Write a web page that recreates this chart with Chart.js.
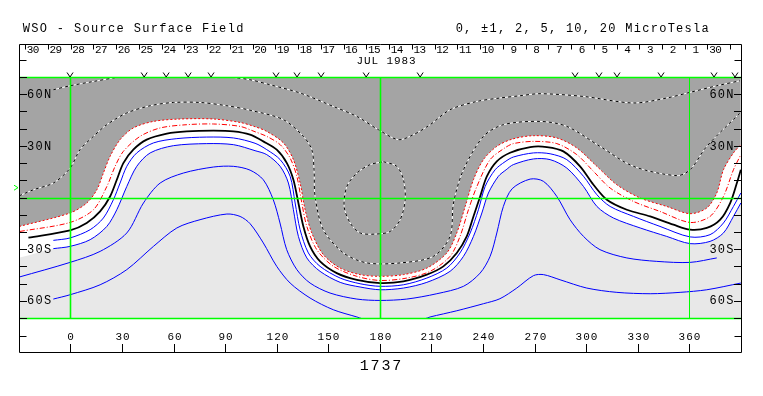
<!DOCTYPE html>
<html><head><meta charset="utf-8">
<script src="https://cdn.jsdelivr.net/npm/chart.js@4.4.0/dist/chart.umd.min.js"></script>
<style>html,body{margin:0;padding:0;background:#fff;}canvas{display:block;}</style>
</head><body>
<canvas id="c" width="763" height="396" style="width:763px;height:396px"></canvas>
<script>
// ---- text / tick data ----
const titleText = 'WSO - Source Surface Field';
const unitsText = '0, \u00b11, 2, 5, 10, 20 MicroTesla';
const rotationText = '1737';
const monthText = 'JUL 1983';
const lonTicks = [0, 30, 60, 90, 120, 150, 180, 210, 240, 270, 300, 330, 360];
const latTicks = [70, 60, 50, 40, 30, 20, 10, 0, -10, -20, -30, -40, -50, -60, -70];
const latLabelVals = [60, 30, -30, -60];
const latLabels = ['60N', '30N', '30S', '60S'];
const dayLabels = [30,29,28,27,26,25,24,23,22,21,20,19,18,17,16,15,14,13,12,11,10,9,8,7,6,5,4,3,2,1,30];
const dayTickLons = [-26.3,-13.1,0.1,13.3,26.6,39.8,53.1,66.3,79.5,92.7,106.0,119.2,132.4,145.7,158.9,172.1,185.3,198.6,211.8,225.0,238.2,251.5,264.7,277.9,291.2,304.4,317.6,330.8,344.1,357.3,370.5,383.7];
const obsLons = [-0.2, 42.9, 55.7, 68.5, 81.8, 119.6, 131.8, 145.8, 172.0, 203.4, 293.5, 307.4, 317.9, 343.5, 374.3, 386.5];
const earthLat = 5.7;
const meridians = [0, 180, 360];
const greenLats = [70, 0, -70];

// ---- contour lines [longitude, latitude] ----
const posOuter = [[-29.7,-16.8],[-0.2,-9.0],[9.5,-3.2],[15.4,4.5],[19.2,14.2],[23.1,23.9],[28.9,33.6],[36.6,40.4],[48.3,44.2],[63.8,45.6],[83.2,45.6],[98.7,43.6],[107.4,41.1],[114.2,38.4],[123.9,31.7],[129.7,22.0],[133.6,8.4],[136.5,-7.1],[140.4,-20.6],[147.1,-33.2],[156.9,-41.0],[168.5,-44.8],[180.1,-45.8],[193.7,-44.8],[207.3,-41.0],[218.9,-32.2],[224.7,-20.6],[229.6,-5.2],[234.4,10.3],[240.2,22.0],[248.0,29.7],[256.9,33.9],[269.3,35.9],[282.9,34.6],[294.5,28.8],[306.2,18.1],[317.8,7.4],[331.4,-0.3],[346.8,-5.2],[360.4,-9.4],[370.1,-6.1],[375.9,2.6],[379.8,16.1],[385.6,25.9],[389.9,30.7]];
const posInner = [[-29.3,-19.7],[-0.2,-14.5],[13.4,-7.1],[21.2,6.4],[26.0,18.1],[30.8,26.8],[40.5,35.5],[52.2,40.4],[67.7,42.3],[83.2,42.7],[98.7,41.3],[107.4,38.2],[114.2,35.5],[122.0,30.7],[127.8,22.9],[131.7,12.3],[134.6,-3.2],[137.5,-16.8],[143.3,-30.3],[153.0,-40.0],[166.6,-45.8],[180.1,-48.2],[195.6,-46.8],[209.2,-42.9],[220.8,-34.2],[226.6,-22.6],[231.5,-7.1],[236.4,6.4],[244.1,22.0],[252.8,28.9],[257.6,31.3],[269.3,32.6],[282.9,31.3],[294.5,24.9],[304.2,15.2],[313.9,5.5],[327.5,-2.3],[342.9,-8.1],[360.4,-14.5],[372.0,-11.0],[379.8,0.6],[385.6,16.1],[389.9,24.9]];
const neutral = [[-24.4,-23.3],[-0.2,-19.1],[9.5,-14.8],[17.3,-8.1],[23.1,0.6],[27.0,10.3],[30.8,20.0],[36.6,27.8],[44.4,33.6],[56.1,37.1],[67.7,38.4],[83.2,38.8],[94.8,38.4],[104.5,36.5],[112.2,32.6],[120.0,27.8],[125.9,20.0],[129.7,10.3],[132.6,-3.2],[135.5,-16.8],[139.4,-28.4],[145.2,-37.1],[154.9,-43.9],[166.6,-47.8],[180.1,-49.7],[193.7,-48.7],[207.3,-44.8],[216.9,-40.0],[224.7,-32.2],[230.5,-22.6],[234.4,-11.0],[238.3,0.6],[242.2,12.3],[248.0,21.0],[255.7,26.0],[267.4,29.3],[277.1,29.3],[286.7,26.8],[296.4,18.1],[304.2,7.4],[312.0,-1.3],[323.6,-7.1],[337.2,-11.0],[350.7,-15.8],[360.4,-18.7],[370.1,-17.7],[377.9,-12.9],[383.7,-3.2],[387.6,8.4],[389.9,16.1]];
const neg1 = [[-9.9,-24.9],[-0.2,-23.5],[11.5,-18.7],[19.2,-11.9],[25.0,-1.3],[28.9,8.4],[32.8,18.1],[38.6,25.9],[48.3,31.7],[61.9,34.2],[79.3,35.1],[94.8,34.6],[107.4,31.5],[114.2,27.8],[122.0,22.0],[127.8,12.3],[130.7,-3.2],[133.6,-18.7],[138.4,-32.2],[145.2,-40.0],[156.9,-46.8],[168.5,-50.1],[180.1,-51.6],[193.7,-50.7],[207.3,-46.8],[218.9,-41.0],[226.6,-32.2],[232.5,-20.6],[237.3,-7.1],[241.2,6.4],[247.0,16.1],[252.8,20.8],[257.6,23.5],[269.3,25.9],[279.0,25.4],[288.7,22.0],[298.4,12.3],[306.2,1.6],[313.9,-5.2],[327.5,-11.0],[342.9,-16.8],[360.4,-22.9],[372.0,-21.6],[379.8,-14.8],[385.6,-5.2],[389.9,2.6]];
const neg2 = [[-9.9,-29.7],[-0.2,-28.4],[11.5,-24.5],[21.2,-16.8],[27.0,-7.1],[32.8,6.4],[38.6,18.1],[46.4,25.9],[59.9,30.1],[79.3,31.3],[94.8,30.7],[107.4,27.2],[114.2,24.9],[122.0,18.1],[126.8,8.4],[129.7,-7.1],[132.6,-22.6],[137.5,-35.1],[145.2,-42.9],[156.9,-49.3],[168.5,-52.0],[180.1,-53.6],[193.7,-52.6],[207.3,-49.3],[220.8,-42.9],[228.6,-34.2],[234.4,-22.6],[239.3,-9.0],[243.1,2.6],[248.9,12.3],[253.4,16.1],[257.6,19.1],[269.3,22.4],[279.0,22.0],[288.7,17.1],[298.4,6.4],[306.2,-5.2],[315.8,-11.9],[331.4,-17.7],[346.8,-22.6],[360.4,-26.8],[372.0,-25.5],[379.8,-20.6],[385.6,-11.0],[389.9,-3.2]];
const lightEdgeStart = [[-29.7,-35.0]];
const neg3 = [[-29.7,-46.2],[-0.2,-37.7],[17.3,-31.3],[32.8,-20.6],[42.5,-3.2],[52.2,8.4],[65.7,14.2],[83.2,17.7],[94.8,18.1],[104.5,15.9],[112.2,10.3],[118.0,-1.3],[121.9,-14.8],[125.8,-30.3],[131.7,-41.9],[139.4,-49.7],[151.0,-55.5],[166.6,-59.0],[180.1,-59.8],[195.6,-59.0],[213.1,-55.9],[228.6,-51.6],[238.3,-43.9],[244.1,-34.2],[248.0,-20.6],[251.8,-5.2],[256.9,5.1],[267.4,10.7],[275.1,9.4],[282.9,0.6],[290.6,-12.9],[298.4,-22.6],[308.0,-30.3],[323.6,-35.1],[341.0,-37.1],[360.4,-37.7],[375.9,-35.1]];
const neg4 = [[-9.9,-59.0],[-0.2,-56.5],[17.3,-50.7],[32.8,-41.9],[48.3,-28.4],[61.9,-17.7],[75.4,-12.9],[91.0,-9.6],[98.7,-11.0],[104.5,-15.2],[112.2,-26.4],[120.0,-40.0],[127.8,-49.7],[139.4,-58.4],[152.9,-65.2],[166.6,-69.4],[173.1,-71.3],[191.8,-72.5],[206.3,-70.4],[209.2,-69.4],[224.7,-65.8],[240.2,-61.7],[249.8,-58.8],[259.6,-52.6],[269.3,-45.4],[275.1,-44.8],[284.8,-47.8],[300.3,-52.6],[317.8,-55.1],[337.2,-55.9],[354.6,-55.1],[370.1,-53.6],[389.9,-49.7]];
const posA = [[-9.9,62.6],[-0.2,64.9],[13.4,67.4],[28.9,70.0],[46.4,71.9],[70.0,73.5],[92.9,70.0],[104.5,68.4],[116.1,65.5],[133.6,60.7],[152.9,52.9],[166.6,47.1],[179.1,39.4],[190.7,33.6],[199.5,36.5],[209.2,42.3],[220.8,51.0],[236.4,55.8],[249.8,57.8],[261.5,59.1],[273.1,60.3],[298.4,58.7],[327.5,54.9],[346.8,57.8],[360.4,61.1],[375.9,64.9],[389.4,67.8]];
const posB = [[-29.7,1.0],[-21.5,4.5],[-9.9,8.4],[-0.2,17.0],[5.6,27.8],[13.4,35.5],[21.2,42.3],[32.8,49.1],[46.4,53.3],[59.9,55.2],[75.4,55.2],[91.0,53.3],[104.5,50.7],[123.9,45.2],[135.5,35.5],[140.4,27.8],[141.7,16.1],[142.3,0.6],[147.1,-18.7],[158.8,-32.2],[172.4,-38.0],[191.8,-38.0],[211.1,-34.2],[220.8,-22.6],[222.8,-3.2],[228.6,16.1],[240.2,35.5],[251.8,42.3],[273.1,44.2],[288.7,41.3],[308.0,29.7],[327.5,18.1],[352.7,12.7],[360.4,16.1],[370.1,29.7],[389.4,49.1]];
const posIsland = [[182.1,20.8],[189.8,18.1],[193.7,10.3],[194.7,-1.3],[191.8,-12.9],[186.0,-19.7],[178.2,-21.2],[168.5,-20.6],[162.7,-14.8],[159.2,-5.2],[160.8,6.4],[166.6,14.2],[174.3,19.1],[182.1,20.8]];

// ---- build ----
const pts = a => a.map(p => ({x: p[0], y: p[1]}));
const base = {pointRadius: 0, borderWidth: 1, tension: 0.3, fill: false, clip: 0};
const dashedPair = (arr) => [
  {...base, data: pts(arr), borderColor: '#000', borderDash: [3, 3]},
  {...base, data: pts(arr), borderColor: '#fff'}
];
const datasets = [
  {...base, data: pts(posOuter), borderColor: '#ff0000', borderDash: [2, 2], fill: 'end', backgroundColor: '#a4a4a4'},
  {...base, data: pts(lightEdgeStart.concat(neg2)), borderColor: 'rgba(0,0,0,0)', borderWidth: 0, fill: 'end', backgroundColor: '#ffffff'},
  {...base, data: pts(neutral), borderColor: '#000', borderWidth: 1.8},
  {...base, data: pts(posInner), borderColor: '#ff0000', borderDash: [5, 2, 1, 2]},
  {...base, data: pts(neg1), borderColor: '#0000ff'},
  {...base, data: pts(neg2), borderColor: '#0000ff'},
  {...base, data: pts(neg3), borderColor: '#0000ff'},
  {...base, data: pts(neg4), borderColor: '#0000ff'},
  ...dashedPair(posA),
  ...dashedPair(posB),
  ...dashedPair(posIsland)
];

function monoText(ctx, s, x0, y, adv) {
  ctx.textAlign = 'center';
  for (let i = 0; i < s.length; i++) ctx.fillText(s[i], x0 + adv * i + adv / 2, y);
}
function line(ctx, x1, y1, x2, y2) { ctx.beginPath(); ctx.moveTo(x1, y1); ctx.lineTo(x2, y2); ctx.stroke(); }
const snap = v => Math.round(v) + 0.5;

const deco = {
  id: 'deco',
  beforeDraw(chart) {
    const {ctx, chartArea: a} = chart;
    ctx.save();
    ctx.fillStyle = '#fff'; ctx.fillRect(0, 0, chart.width, chart.height);
    ctx.fillStyle = '#e8e8e8'; ctx.fillRect(a.left, a.top, a.right - a.left, a.bottom - a.top);
    ctx.restore();
  },
  afterDatasetsDraw(chart) {
    const {ctx, chartArea: a, scales: {x, y}} = chart;
    ctx.save();
    ctx.strokeStyle = '#00ff00';
    meridians.forEach(m => {
      ctx.lineWidth = m === 360 ? 1 : 1.6;
      const px = snap(x.getPixelForValue(m));
      line(ctx, px, a.top, px, a.bottom);
    });
    ctx.lineWidth = 1.6;
    greenLats.forEach(l => {
      const py = snap(y.getPixelForValue(l));
      line(ctx, a.left, py, a.right, py);
    });
    // Earth latitude marker
    const ey = y.getPixelForValue(earthLat);
    ctx.lineWidth = 1;
    ctx.beginPath(); ctx.moveTo(a.left - 6, ey - 2.5); ctx.lineTo(a.left - 2, ey); ctx.lineTo(a.left - 6, ey + 2.5); ctx.stroke();
    ctx.restore();
  },
  afterDraw(chart) {
    const {ctx, chartArea: a, scales: {x, y}} = chart;
    ctx.save();
    ctx.strokeStyle = '#000'; ctx.fillStyle = '#000'; ctx.lineWidth = 1;
    const L = a.left - 0.5, R = a.right + 0.5, T = 44.5, B = 352.5;
    ctx.beginPath();
    ctx.moveTo(L, T); ctx.lineTo(R, T); ctx.lineTo(R, B); ctx.lineTo(L, B); ctx.closePath();
    ctx.stroke();
    [60.5, 336.5].forEach(py => { line(ctx, L, py, L + 7, py); line(ctx, R - 7, py, R, py); });
    latTicks.forEach(l => {
      const py = snap(y.getPixelForValue(l));
      line(ctx, L, py, L + 7.5, py); line(ctx, R - 7.5, py, R, py);
    });
    ctx.font = '12px "Liberation Mono"'; ctx.textBaseline = 'middle';
    latLabelVals.forEach((l, i) => {
      const py = y.getPixelForValue(l) + 0.5;
      monoText(ctx, latLabels[i], L + 7, py, 8.4);
      monoText(ctx, latLabels[i], R - 7.5 - 3 * 8.4, py, 8.4);
    });
    obsLons.forEach(lo => {
      const px = x.getPixelForValue(lo);
      ctx.beginPath(); ctx.moveTo(px - 3, 72.5); ctx.lineTo(px, 77); ctx.lineTo(px + 3, 72.5); ctx.stroke();
    });
    dayTickLons.forEach(lo => {
      const px = snap(x.getPixelForValue(lo));
      line(ctx, px, 45, px, 49.5);
    });
    ctx.font = '11px "Liberation Mono"';
    dayLabels.forEach((d, i) => {
      const px = x.getPixelForValue(dayTickLons[i]);
      const s = String(d);
      monoText(ctx, s, px + 14 - s.length * 6, 50.5, 6);
    });
    monoText(ctx, monthText, 356, 61, 7.5);
    lonTicks.forEach(lo => {
      const px = snap(x.getPixelForValue(lo));
      line(ctx, px, 344, px, B);
      const s = String(lo);
      monoText(ctx, s, px - s.length * 7.6 / 2, 337.5, 7.6);
    });
    ctx.font = '15px "Liberation Mono"';
    monoText(ctx, rotationText, 380.5 - 2 * 10.8, 366, 10.8);
    ctx.font = '12px "Liberation Mono"';
    monoText(ctx, titleText, 22, 28.5, 8.54);
    monoText(ctx, unitsText, 455, 28.5, 8.48);
    ctx.restore();
  }
};

new Chart(document.getElementById('c'), {
  type: 'line',
  data: {datasets},
  options: {
    responsive: false, animation: false, devicePixelRatio: 1,
    layout: {padding: {left: 20, right: 22, top: 77, bottom: 78}},
    scales: {
      x: {type: 'linear', min: -29.3, max: 390, display: false},
      y: {type: 'linear', min: -70, max: 70, display: false}
    },
    plugins: {legend: {display: false}, tooltip: {enabled: false}, filler: {drawTime: 'beforeDatasetsDraw', propagate: false}},
    events: []
  },
  plugins: [deco]
});
</script>
</body></html>
